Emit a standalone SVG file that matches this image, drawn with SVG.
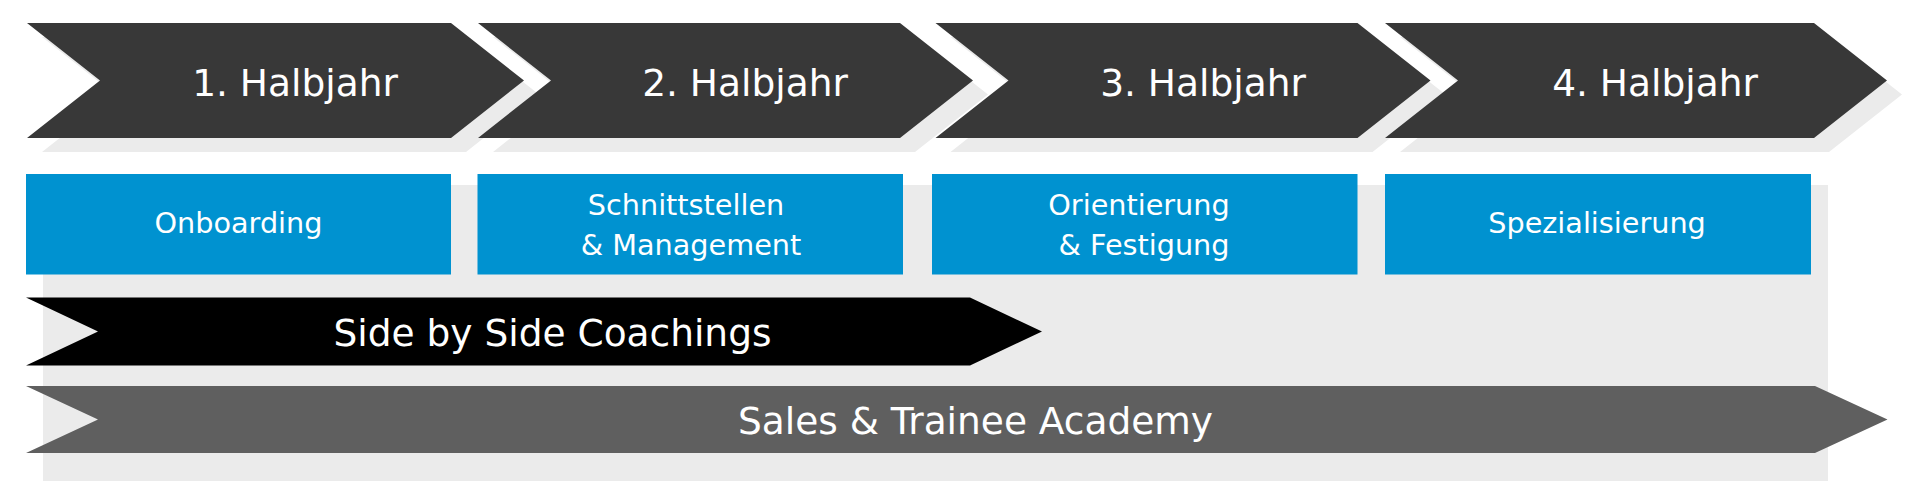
<svg xmlns="http://www.w3.org/2000/svg" width="1920" height="500" viewBox="0 0 1920 500">
<style>
.shadow{fill:#ebebeb}
.phase{fill:#383838}
.box{fill:#0092d0}
.t{font-family:"DejaVu Sans","Liberation Sans",sans-serif;fill:#ffffff;text-anchor:middle}
.big{font-size:37.5px}
.small{font-size:28.7px}
</style>
<rect id="panel" x="43" y="185" width="1785" height="296" class="shadow"/>
<g id="shadows" transform="translate(15,14)">
<polygon class="shadow" points="27,23 451,23 524,80.5 451,138 27,138 100,80.5"/>
<polygon class="shadow" points="478,23 900,23 973,80.5 900,138 478,138 551,80.5"/>
<polygon class="shadow" points="935.5,23 1357.5,23 1430.5,80.5 1357.5,138 935.5,138 1008.5,80.5"/>
<polygon class="shadow" points="1385,23 1814,23 1887,80.5 1814,138 1385,138 1458,80.5"/>
</g>
<g id="phase1">
<polygon class="phase" points="27,23 451,23 524,80.5 451,138 27,138 100,80.5"/>
<text class="t big" x="295" y="96">1. Halbjahr</text>
</g>
<g id="phase2">
<polygon class="phase" points="478,23 900,23 973,80.5 900,138 478,138 551,80.5"/>
<text class="t big" x="745" y="96">2. Halbjahr</text>
</g>
<g id="phase3">
<polygon class="phase" points="935.5,23 1357.5,23 1430.5,80.5 1357.5,138 935.5,138 1008.5,80.5"/>
<text class="t big" x="1203" y="96">3. Halbjahr</text>
</g>
<g id="phase4">
<polygon class="phase" points="1385,23 1814,23 1887,80.5 1814,138 1385,138 1458,80.5"/>
<text class="t big" x="1655" y="96">4. Halbjahr</text>
</g>
<g id="onboarding">
<rect class="box" x="26" y="174" width="425" height="100.5"/>
<text class="t small" x="238.5" y="233">Onboarding</text>
</g>
<g id="schnittstellen">
<rect class="box" x="477.5" y="174" width="425.5" height="100.5"/>
<text class="t small" x="686" y="214.5">Schnittstellen</text>
<text class="t small" x="691" y="255">&amp; Management</text>
</g>
<g id="orientierung">
<rect class="box" x="932" y="174" width="425.5" height="100.5"/>
<text class="t small" x="1139" y="214.5">Orientierung</text>
<text class="t small" x="1144" y="255">&amp; Festigung</text>
</g>
<g id="spezialisierung">
<rect class="box" x="1385" y="174" width="426" height="100.5"/>
<text class="t small" x="1597" y="233">Spezialisierung</text>
</g>
<g id="coachings">
<polygon fill="#000000" points="26,297.5 970,297.5 1042,331.5 970,365.5 26,365.5 98,331.5"/>
<text class="t big" x="552.5" y="346">Side by Side Coachings</text>
</g>
<g id="academy">
<polygon fill="#5f5f5f" points="26,386 1815,386 1887.5,419.5 1815,453 26,453 98,419.5"/>
<text class="t big" x="975.5" y="434">Sales &amp; Trainee Academy</text>
</g>
<g id="connectors"/>
</svg>
